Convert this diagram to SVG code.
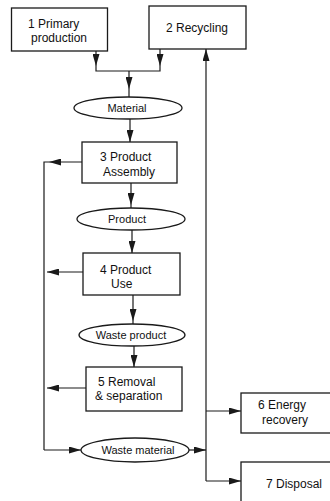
<svg xmlns="http://www.w3.org/2000/svg" width="330" height="501" viewBox="0 0 330 501">
<style>
.box{fill:#fff;stroke:#1a1a1a;stroke-width:1.3}
.ell{fill:#fff;stroke:#1a1a1a;stroke-width:1.3}
.t{font-family:"Liberation Sans",Arial,sans-serif;font-size:12px;fill:#111}
.te{font-family:"Liberation Sans",Arial,sans-serif;font-size:11px;fill:#111;text-anchor:middle}
.c{fill:none;stroke:#1a1a1a;stroke-width:1.2}
.a{fill:none;stroke:#1a1a1a;stroke-width:1.2;marker-end:url(#ah)}
</style>
<defs>
<marker id="ah" viewBox="0 0 12 7" refX="12" refY="3.5" markerWidth="12" markerHeight="7" markerUnits="userSpaceOnUse" orient="auto">
<path d="M0,0 L12,3.5 L0,7 Z" fill="#1a1a1a"/>
</marker>
</defs>
<rect width="330" height="501" fill="#fff"/>
<g id="connectors">
<path class="a" d="M96,51 V66"/>
<path class="c" d="M96,66 V71 H160 V66"/>
<path class="a" d="M160,49 V66"/>
<path class="a" d="M129,71 V89"/>
<path class="c" d="M129,89 V97"/>
<path class="a" d="M130,119 V142"/>
<path class="a" d="M131,183 V205"/>
<path class="c" d="M131,205 V208"/>
<path class="a" d="M132,230 V253"/>
<path class="a" d="M133,295 V321"/>
<path class="c" d="M133,321 V324"/>
<path class="a" d="M134,346 V367"/>
<path class="a" d="M82,162 H49"/>
<path class="c" d="M49,162 H44 V450"/>
<path class="a" d="M83,272 H47"/>
<path class="a" d="M86,388 H47"/>
<path class="a" d="M44,450 H81"/>
<path class="a" d="M189,450 H206"/>
<path class="a" d="M206,481 V49"/>
<path class="a" d="M206,411 H241"/>
<path class="a" d="M206,481 H241"/>
</g>
<g id="n1"><rect class="box" x="11.5" y="8" width="96" height="43"/><text class="t" x="28" y="28">1 Primary</text><text class="t" x="31" y="42">production</text></g>
<g id="n2"><rect class="box" x="149" y="6" width="97" height="43"/><text class="t" x="166" y="32">2 Recycling</text></g>
<g id="material"><ellipse class="ell" cx="128" cy="108" rx="54" ry="11"/><text class="te" x="127" y="112">Material</text></g>
<g id="n3"><rect class="box" x="82" y="142" width="95" height="41"/><text class="t" x="100" y="161">3 Product</text><text class="t" x="103" y="176">Assembly</text></g>
<g id="product"><ellipse class="ell" cx="131" cy="219" rx="54" ry="11"/><text class="te" x="127" y="223">Product</text></g>
<g id="n4"><rect class="box" x="83" y="253" width="97" height="42"/><text class="t" x="100" y="274">4 Product</text><text class="t" x="111" y="288">Use</text></g>
<g id="wasteproduct"><ellipse class="ell" cx="132" cy="335" rx="53" ry="11"/><text class="te" x="131" y="339">Waste product</text></g>
<g id="n5"><rect class="box" x="86" y="367" width="96" height="44"/><text class="t" x="98" y="386">5 Removal</text><text class="t" x="95" y="400">&amp; separation</text></g>
<g id="wastematerial"><ellipse class="ell" cx="135" cy="450" rx="54" ry="12"/><text class="te" x="138" y="454">Waste material</text></g>
<g id="n6"><rect class="box" x="241" y="393" width="100" height="40"/><text class="t" x="258" y="409">6 Energy</text><text class="t" x="262" y="424">recovery</text></g>
<g id="n7"><rect class="box" x="241" y="462" width="100" height="50"/><text class="t" x="266" y="488">7 Disposal</text></g>
</svg>
